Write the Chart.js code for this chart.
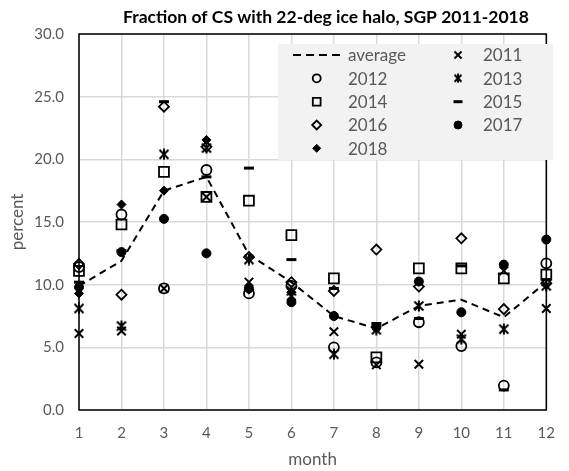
<!DOCTYPE html>
<html>
<head>
<meta charset="utf-8">
<script src="https://cdn.jsdelivr.net/npm/chart.js@4.4.0/dist/chart.umd.min.js"></script>
<style>
  html, body { margin: 0; padding: 0; background: #fff; }
</style>
</head>
<body>
<canvas id="halo" width="569" height="471"></canvas>
<script>
// monthly fraction of CS (%) with 22-deg halo
const months = ['1', '2', '3', '4', '5', '6', '7', '8', '9', '10', '11', '12'];
const average = [9.9, 11.9, 17.5, 18.6, 12.4, 10.2, 7.5, 6.5, 8.3, 8.8, 7.4, 10.2];
const y2011 = [6.1, 6.3, 9.7, 17.0, 10.2, 9.1, 6.25, 3.6, 3.65, 6.05, 11.1, 8.1];
const y2012 = [11.4, 15.6, 9.7, 19.15, 9.3, 9.9, 5.0, 3.8, 7.0, 5.1, 1.95, 11.7];
const y2013 = [8.1, 6.7, 20.4, 20.9, 12.0, 9.5, 4.45, 6.4, 8.3, 5.65, 6.45, 9.9];
const y2014 = [11.1, 14.8, 19.0, 17.0, 16.7, 13.95, 10.5, 4.2, 11.3, 11.3, 10.5, 10.8];
const y2015 = [10.2, 12.7, 24.6, 18.6, 19.3, 12.0, 9.7, 6.9, 7.3, 11.5, 1.6, 10.4];
const y2016 = [11.65, 9.2, 24.2, 21.0, 12.2, 10.2, 9.5, 12.8, 9.85, 13.7, 8.05, 10.1];
const y2017 = [9.8, 12.6, 15.25, 12.5, 9.7, 8.6, 7.5, 6.6, 10.25, 7.8, 11.6, 13.6];
const y2018 = [9.3, 16.4, 17.5, 21.55, 9.6, 9.4, null, null, null, null, null, null];
const yTicks = [0, 5, 10, 15, 20, 25, 30];

const FONT = 'Lato, "Open Sans", sans-serif';
const GREY = '#595959';

// excel style "star" marker: an x with a vertical stroke
function asterisk(size, lw) {
  const c = document.createElement('canvas');
  c.width = size; c.height = size;
  const g = c.getContext('2d');
  const m = size / 2, d = size / 2 - 1.5;
  g.strokeStyle = '#000';
  g.lineWidth = lw;
  g.beginPath();
  g.moveTo(m - d, m - d); g.lineTo(m + d, m + d);
  g.moveTo(m + d, m - d); g.lineTo(m - d, m + d);
  g.moveTo(m, 0.5); g.lineTo(m, size - 0.5);
  g.stroke();
  return c;
}

const pointSet = (label, data, style, radius, fill, bw, legendRadius) => ({
  label: label,
  data: data,
  showLine: false,
  pointStyle: style,
  pointRadius: radius,
  pointBorderWidth: bw,
  pointBorderColor: '#000',
  pointBackgroundColor: fill ? '#000' : 'rgba(0,0,0,0)',
  legendRadius: legendRadius,
  clip: false
});

const datasets = [
  {
    label: 'average',
    data: average,
    borderColor: '#000',
    borderWidth: 2,
    borderDash: [7, 5],
    pointRadius: 0,
    fill: false,
    tension: 0,
    clip: false,
    order: 100
  },
  pointSet('2011', y2011, 'crossRot', 6, false, 2, 5),
  pointSet('2012', y2012, 'circle', 5, false, 1.8, 4),
  pointSet('2013', y2013, asterisk(12, 2), 6, false, 2, 4),
  pointSet('2014', y2014, 'rect', 7, false, 1.8, 5.5),
  pointSet('2015', y2015, 'line', 5, false, 3, 4.5),
  pointSet('2016', y2016, 'rectRot', 5, false, 1.8, 4.5),
  pointSet('2017', y2017, 'circle', 4.5, true, 1, 4),
  pointSet('2018', y2018, 'rectRot', 4.5, true, 1, 4)
];
// later years on top, like the spreadsheet did
datasets.forEach((d, i) => { if (i > 0) d.order = 20 - i; });

const decor = {
  id: 'decor',
  beforeDatasetsDraw(chart) {
    const { ctx, chartArea: a } = chart;
    ctx.save();
    ctx.strokeStyle = '#000';
    ctx.lineWidth = 1.5;
    ctx.strokeRect(a.left, a.top, a.right - a.left, a.bottom - a.top);
    ctx.restore();
  },
  afterDraw(chart) {
    const ctx = chart.ctx;
    ctx.save();
    // title
    ctx.fillStyle = '#000';
    ctx.font = 'bold 17.5px ' + FONT;
    ctx.textAlign = 'center';
    ctx.textBaseline = 'middle';
    ctx.fillText('Fraction of CS with 22-deg ice halo, SGP 2011-2018', 326, 17);

    // legend, two columns
    ctx.fillStyle = '#f2f2f2';
    ctx.fillRect(278, 44, 275, 116);
    const rowY = [55, 78.3, 101.7, 125, 148.3];
    const colMark = [316.7, 458];
    const colText = [348, 483];
    const ds = chart.data.datasets;
    ds.forEach((d, i) => {
      const row = Math.floor(i / 2), col = i % 2;
      const mx = colMark[col], my = rowY[row];
      if (i === 0) {
        ctx.strokeStyle = '#000';
        ctx.lineWidth = 2;
        ctx.setLineDash([8, 5]);
        ctx.beginPath();
        ctx.moveTo(293, my);
        ctx.lineTo(340, my);
        ctx.stroke();
        ctx.setLineDash([]);
      } else {
        ctx.strokeStyle = '#000';
        ctx.fillStyle = d.pointBackgroundColor;
        ctx.lineWidth = d.pointBorderWidth;
        let style = d.pointStyle;
        if (typeof style !== 'string') {
          ctx.drawImage(asterisk(10, 2), mx - 5, my - 5);
        } else {
          Chart.helpers.drawPoint(ctx, {
            pointStyle: style,
            radius: d.legendRadius,
            borderWidth: d.pointBorderWidth,
            rotation: 0
          }, mx, my);
        }
      }
      ctx.fillStyle = GREY;
      ctx.font = '17px ' + FONT;
      ctx.textAlign = 'left';
      ctx.textBaseline = 'middle';
      ctx.fillText(d.label, colText[col], my + 1);
    });
    ctx.restore();
  }
};

const ctx = document.getElementById('halo').getContext('2d');
new Chart(ctx, {
  type: 'line',
  data: { labels: months, datasets: datasets },
  options: {
    responsive: false,
    animation: false,
    layout: { padding: { top: 34, right: 9, left: 0, bottom: 0 } },
    plugins: {
      legend: { display: false },
      title: { display: false },
      tooltip: { enabled: false }
    },
    scales: {
      x: {
        offset: false,
        grid: { color: '#d9d9d9', lineWidth: 1.5, drawTicks: false },
        border: { display: false },
        ticks: { color: GREY, font: { family: FONT, size: 15 }, padding: 14, maxRotation: 0 },
        title: { display: true, text: 'month', color: GREY, font: { family: FONT, size: 17 }, padding: { top: 0, bottom: 1 } },
        afterFit(scale) { scale.height = 61; }
      },
      y: {
        min: 0,
        max: 30,
        afterBuildTicks(scale) { scale.ticks = yTicks.map(v => ({ value: v })); },
        grid: { color: '#d9d9d9', lineWidth: 1.5, drawTicks: false },
        border: { display: false },
        ticks: {
          color: GREY,
          font: { family: FONT, size: 15 },
          padding: 15,
          callback: v => v.toFixed(1)
        },
        title: { display: true, text: 'percent', color: GREY, font: { family: FONT, size: 17 }, padding: { top: 7, bottom: 0 } },
        afterFit(scale) { scale.width = 79; }
      }
    }
  },
  plugins: [decor]
});
</script>
</body>
</html>
